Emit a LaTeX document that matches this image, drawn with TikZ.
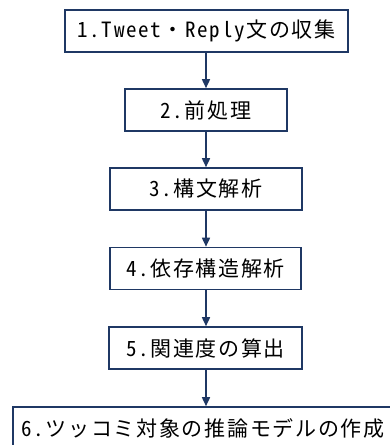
\documentclass[tikz,border=0pt]{standalone}
\usepackage{fontspec}
\setmainfont{Noto Sans CJK JP}[RawFeature=+hwid, LetterSpace=8]
\usetikzlibrary{arrows.meta}
\definecolor{navy}{HTML}{1F3864}
\tikzset{
  stepbox/.style={draw=navy, line width=1.6pt, fill=white, rectangle, inner sep=0pt,
    minimum height=42pt, font=\fontsize{21pt}{24pt}\selectfont, text=black},
  flow/.style={draw=navy, line width=1.6pt, -{Triangle[width=8pt,length=9pt]}}
}
\begin{document}
\begin{tikzpicture}[x=1pt,y=-1pt]
\useasboundingbox (0,0) rectangle (390,445);
\clip (0,0) rectangle (390,445);
\fill[white] (0,0) rectangle (390,445);
\node[stepbox, minimum width=283pt] (b1) at (206.5,31) {1.Tweet・Reply文の収集};
\node[stepbox, minimum width=162pt] (b2) at (206,110) {2.前処理};
\node[stepbox, minimum width=192pt] (b3) at (206,189) {3.構文解析};
\node[stepbox, minimum width=191pt] (b4) at (205.5,268.5) {4.依存構造解析};
\node[stepbox, minimum width=193pt] (b5) at (205.5,348) {5.関連度の算出};
\node[stepbox, minimum width=380pt] (b6) at (203,428) {6.ツッコミ対象の推論モデルの作成};
\draw[flow] (b1.south -| 206,0) -- (b2.north -| 206,0);
\draw[flow] (b2.south -| 206,0) -- (b3.north -| 206,0);
\draw[flow] (b3.south -| 206,0) -- (b4.north -| 206,0);
\draw[flow] (b4.south -| 206,0) -- (b5.north -| 206,0);
\draw[flow] (b5.south -| 206,0) -- (b6.north -| 206,0);
\end{tikzpicture}
\end{document}
